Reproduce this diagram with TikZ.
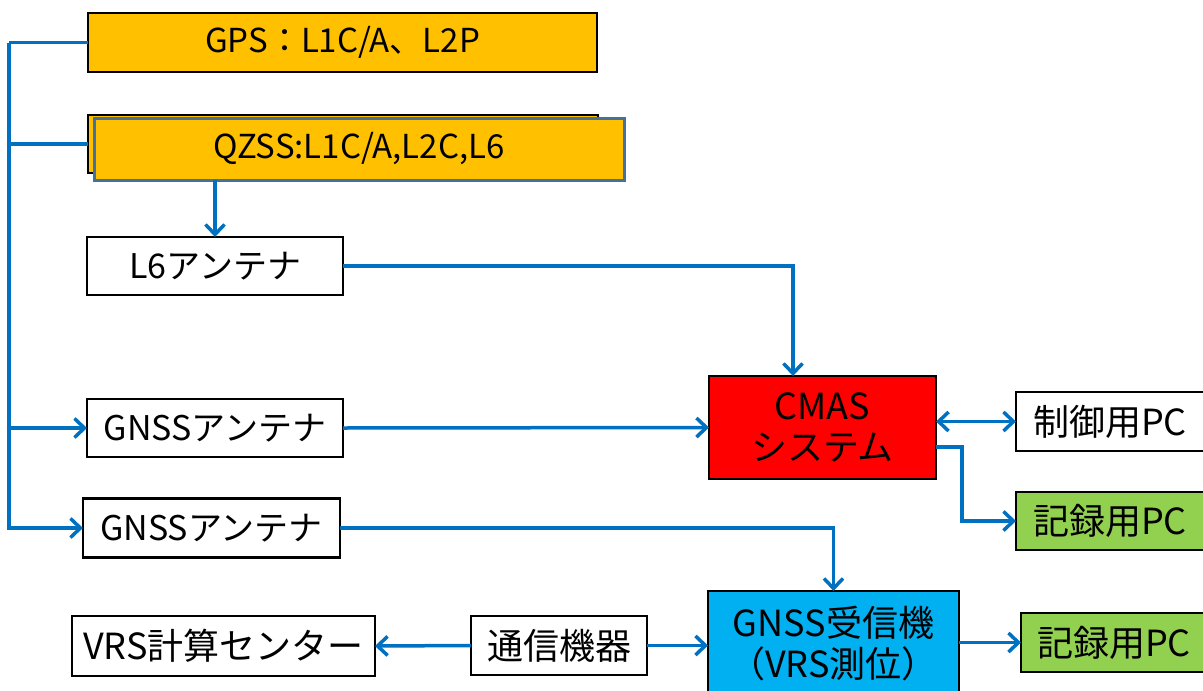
\documentclass[tikz,border=0pt]{standalone}
\usepackage{fontspec}
\setmainfont{Noto Sans CJK JP}
\usetikzlibrary{arrows.meta}
\definecolor{arrblue}{HTML}{0070C0}
\definecolor{orng}{HTML}{FFC000}
\definecolor{qzedge}{HTML}{41719C}
\definecolor{cmasred}{HTML}{FF0000}
\definecolor{rxblue}{HTML}{00B0F0}
\definecolor{pcgreen}{HTML}{92D050}
\tikzset{
  box/.style={draw=black, line width=2.2pt, inner sep=0pt, outer sep=0pt, align=center,
    font=\fontsize{34}{40}\selectfont},
  bigtext/.style={font=\fontsize{36}{41}\selectfont},
  sattext/.style={font=\fontsize{33}{40}\selectfont},
  conn/.style={draw=arrblue, line width=3.5pt},
  arr/.style={conn, -{Straight Barb[length=10pt,width=19pt,line width=3.5pt]}},
  darr/.style={conn, {Straight Barb[length=10pt,width=19pt,line width=3.5pt]}-{Straight Barb[length=10pt,width=19pt,line width=3.5pt]}}
}
\begin{document}
\begin{tikzpicture}[x=1pt,y=-1pt]
\useasboundingbox (0,0) rectangle (1203,691);
\fill[white] (0,0) rectangle (1203,691);
% top satellites
\node[box, sattext, fill=orng, minimum width=509pt, minimum height=59pt] (gps) at (342.5,42.5) {GPS：L1C/A、L2P};
\node[box, fill=orng, minimum width=510pt, minimum height=58pt] (qzb) at (343,144) {};
\node[box, sattext, fill=orng, draw=qzedge, line width=3pt, minimum width=530pt, minimum height=62pt] (qz) at (359,149) {QZSS:L1C/A,L2C,L6};
% antennas
\node[box, minimum width=256pt, minimum height=58pt] (l6) at (215,266) {L6アンテナ};
\node[box, minimum width=256pt, minimum height=58pt] (ant1) at (215,428) {GNSSアンテナ};
\node[box, minimum width=257pt, minimum height=59pt] (ant2) at (211.5,528) {GNSSアンテナ};
% CMAS
\node[box, bigtext, fill=cmasred, minimum width=227pt, minimum height=103pt] (cmas) at (822.5,427.5) {CMAS\\システム};
\node[box, bigtext, minimum width=188pt, minimum height=59pt] (ctrl) at (1110,421.5) {制御用PC};
\node[box, bigtext, fill=pcgreen, minimum width=188pt, minimum height=58pt] (rec1) at (1110,521) {記録用PC};
% receiver line
\node[box, bigtext, fill=rxblue, minimum width=251pt, minimum height=106pt] (rx) at (833.5,644) {GNSS受信機\\（VRS測位）};
\node[box, bigtext, fill=pcgreen, minimum width=186pt, minimum height=59pt] (rec2) at (1114,642.5) {記録用PC};
\node[box, bigtext, minimum width=303pt, minimum height=60pt] (vrs) at (223.5,646) {VRS計算センター};
\node[box, bigtext, minimum width=176pt, minimum height=59pt] (comm) at (559,645.5) {通信機器};
% left bus
\coordinate (bus) at (9,42.5);
\draw[conn] (gps.west) -- (bus);
\draw[arr] (bus) |- (ant2.west);
\draw[conn] (bus |- qzb.west) -- (qzb.west);
\draw[arr] (bus |- ant1.west) -- (ant1.west);
% QZSS to L6
\draw[arr] (l6.north |- qz.south) -- (l6.north);
% L6 to CMAS
\draw[arr] (l6.east) -| ([xshift=-29.5pt]cmas.north);
% GNSS antenna 1 to CMAS
\draw[arr] (ant1.east) -- (cmas.west);
% CMAS <-> control PC
\draw[darr] (cmas.east |- ctrl.west) -- (ctrl.west);
% CMAS -> recording PC
\draw[arr] ([yshift=-19.5pt]cmas.east) -- ++(26pt,0) |- (rec1.west);
% GNSS antenna 2 to receiver
\draw[arr] (ant2.east) -| (rx.north);
% comm links
\draw[arr] (comm.west) -- (vrs.east);
\draw[arr] (comm.east) -- (comm.east -| rx.west);
\draw[arr] (rx.east |- rec2.west) -- (rec2.west);
\end{tikzpicture}
\end{document}
